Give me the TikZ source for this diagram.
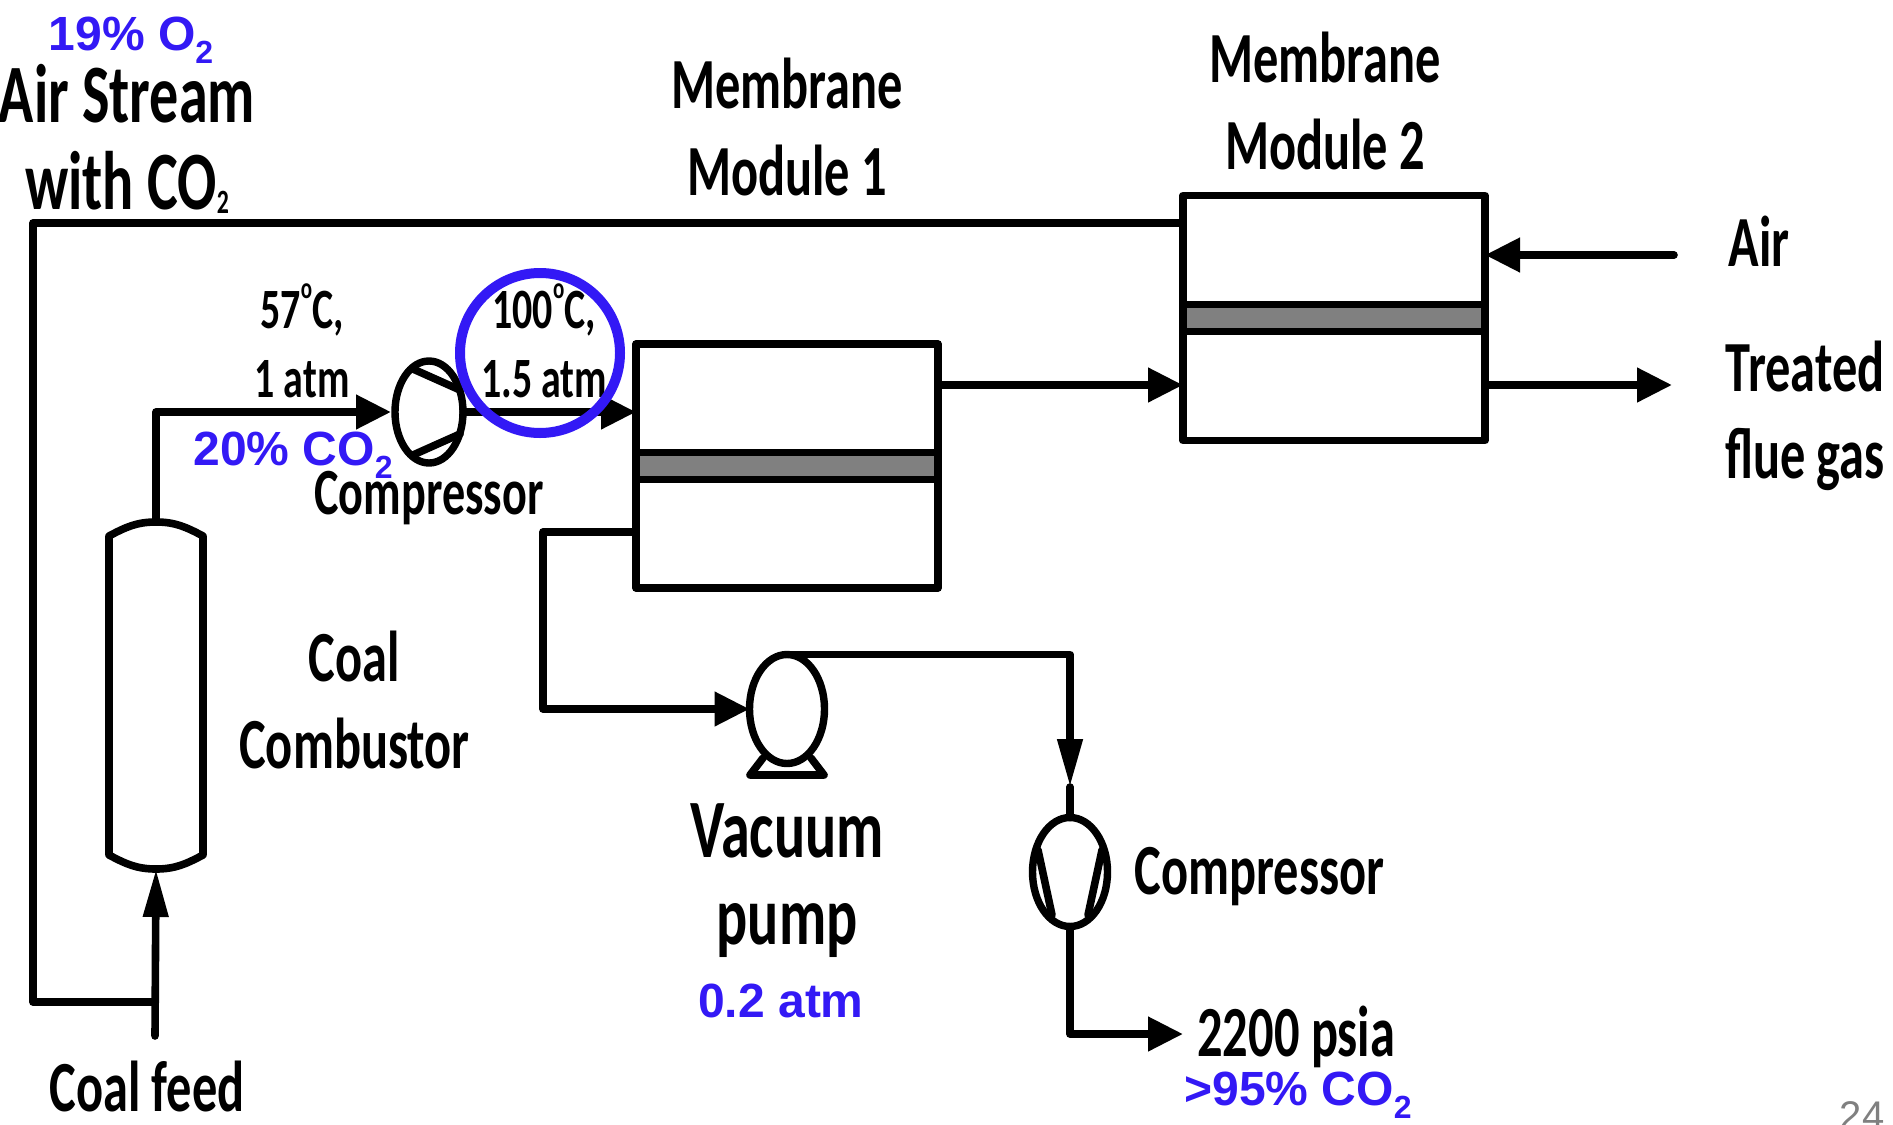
\documentclass[tikz,border=0pt]{standalone}
\usepackage{fontspec}
\setmainfont{Carlito}
\newfontfamily\labelfont{Carlito}[FakeStretch=0.7]
\newfontfamily\bluefont{Liberation Sans}
\usetikzlibrary{shapes.geometric, arrows.meta, positioning}
\definecolor{noteblue}{HTML}{3319F5}
\newcommand{\subtwo}{\raisebox{-0.28em}{\fontsize{16}{16}\selectfont 2}}
\newcommand{\tinytwo}{\raisebox{-0.05em}{\fontsize{17}{17}\selectfont 2}}
\newcommand{\degsign}{\raisebox{0.52em}{\fontsize{15}{15}\selectfont o}}

\begin{document}
\begin{tikzpicture}[
        x=0.5pt, y=-0.5pt,
        >=Latex,
        line join=round,
        box/.style={rectangle, draw=black, line width=3.7pt, outer sep=0pt, inner sep=0pt, minimum width=151pt},
        band/.style={rectangle, draw=black, fill=black!50, line width=3.9pt, outer sep=0pt, inner sep=0pt, minimum width=151pt, minimum height=13.5pt},
        machine/.style={ellipse, draw=black, line width=3.7pt, outer sep=0pt, inner sep=0pt, minimum width=37.5pt, minimum height=54.5pt},
        pipe/.style={draw=black, line width=3.8pt, line cap=round},
        line/.style={pipe, -{Triangle[length=17.5pt, width=16.5pt]}},
        narrow/.style={pipe, -{Triangle[length=24pt, width=12pt]}},
        big/.style={font=\labelfont\bfseries\fontsize{36}{43.5}\selectfont, align=center, inner sep=0pt},
        huge/.style={font=\labelfont\bfseries\fontsize{41.5}{43.5}\selectfont, align=center, inner sep=0pt},
        mid/.style={font=\labelfont\bfseries\fontsize{33}{40}\selectfont, align=center, inner sep=0pt},
        small/.style={font=\labelfont\bfseries\fontsize{28.5}{34.5}\selectfont, align=center, inner sep=0pt},
        note/.style={font=\bluefont\bfseries\fontsize{24}{27}\selectfont, text=noteblue, inner sep=0pt}
    ]
        \useasboundingbox (0,0) rectangle (1893,1124);

        % equipment
        \node[box, minimum height=122pt] (mod1) at (787,466) {};
        \node[band] (mod1band) at (mod1.center) {};
        \node[box, minimum height=122.5pt] (mod2) at (1334,318) {};
        \node[band] (mod2band) at (mod2.center) {};
        \node[machine, minimum width=34pt, minimum height=51pt] (comp1) at (429,412) {};
        \node[machine] (vac) at (787,709) {};
        \node[machine] (comp2) at (1070,872) {};
        \node[rectangle, minimum width=47pt, minimum height=173.5pt, inner sep=0pt, outer sep=0pt] (comb) at (156,695.5) {};
        \draw[pipe] ([yshift=-7pt]comb.north west) to[out=28,in=180] (comb.north) to[out=0,in=152] ([yshift=-7pt]comb.north east)
            -- ([yshift=7pt]comb.south east) to[out=208,in=0] (comb.south) to[out=180,in=-28] ([yshift=7pt]comb.south west) -- cycle;

        % blades and pump foot
        \draw[pipe] ([shift={(-16,-43)}]comp1.center) -- ([shift={(31,-22)}]comp1.center);
        \draw[pipe] ([shift={(-16,43)}]comp1.center) -- ([shift={(31,22)}]comp1.center);
        \draw[pipe] ([shift={(-32,-22)}]comp2.center) -- ([shift={(-18,43)}]comp2.center);
        \draw[pipe] ([shift={(32,-22)}]comp2.center) -- ([shift={(18,43)}]comp2.center);
        \draw[pipe] ([shift={(-24,49)}]vac.center) -- ([shift={(-37,66)}]vac.center) -- ([shift={(37,66)}]vac.center) -- ([shift={(24,49)}]vac.center);

        % free ends and ports
        \coordinate (recycle) at (1183,223);
        \coordinate (feed) at (155,1036);
        \coordinate (mix) at (155,1002);
        \coordinate (airin) at (1674,255);
        \coordinate (treated) at (1672,385);
        \coordinate (permeate) at (636,532);
        \coordinate (product) at (1183,1034);
        \coordinate (stubtop) at (1070,787);

        % streams
        \draw[line] (comb.north) |- ([xshift=-2pt]comp1.west);
        \draw[line] (comp1.east) -- (comp1.east -| mod1.west);
        \draw[line] (mod1.east |- treated) -- (mod2.west |- treated);
        \draw[line] (mod2.east |- treated) -- (treated);
        \draw[line] (airin) -- (airin -| mod2.east);
        \draw[pipe] (recycle) -| (33,1002) -- (mix);
        \draw[narrow] (feed) -- (comb.south);
        \draw[line] (permeate) -| (543,709) -- (vac.west);
        \draw[narrow] (vac.north) -| (stubtop);
        \draw[pipe] (stubtop) -- (comp2.north);
        \draw[line] (comp2.south) |- (product);

        % labels
        \node[note] (o2note) at (131,40) {19\% O\subtwo};
        \node[huge] (airlbl) at (127,139) {Air Stream\\with CO\tinytwo};
        \node[big, above=74pt of mod1] (mod1lbl) {Membrane\\Module 1};
        \node[big, above=12.6pt of mod2, xshift=-4.5pt] (mod2lbl) {Membrane\\Module 2};
        \node[big] (airinlbl) at (1759,241) {Air};
        \node[big] (treatedlbl) at (1805,416) {Treated\\flue gas};
        \node[big] (comblbl) at (354.5,700) {Coal\\Combustor};
        \node[mid, below=3.8pt of comp1] (comp1lbl) {Compressor};
        \node[small] (inlbl) at (302,341) {57\degsign C,\\1 atm};
        \node[small] (outlbl) at (544,341) {100\degsign C,\\1.5 atm};
        \node[note] (co2note) at (293,455) {20\% CO\subtwo};
        \node[huge, below=20pt of vac] (vaclbl) {Vacuum\\pump};
        \node[note] (vacnote) at (781,1001) {0.2 atm};
        \node[big] (comp2lbl) at (1259.5,877) {Compressor};
        \node[big, right=7pt of product, yshift=-1.5pt] (productlbl) {2200 psia};
        \node[note] (productnote) at (1298,1095) {>95\% CO\subtwo};
        \node[big] (feedlbl) at (147,1086) {Coal feed};
        \node[font=\bluefont\fontsize{20}{20}\selectfont, text=black!50, inner sep=0pt] (pagenum) at (1862,1116) {24};

        % highlight
        \node[circle, draw=noteblue, line width=5pt, minimum size=80pt, inner sep=0pt, outer sep=0pt] (ring) at (540,353) {};
    \end{tikzpicture}
\end{document}
